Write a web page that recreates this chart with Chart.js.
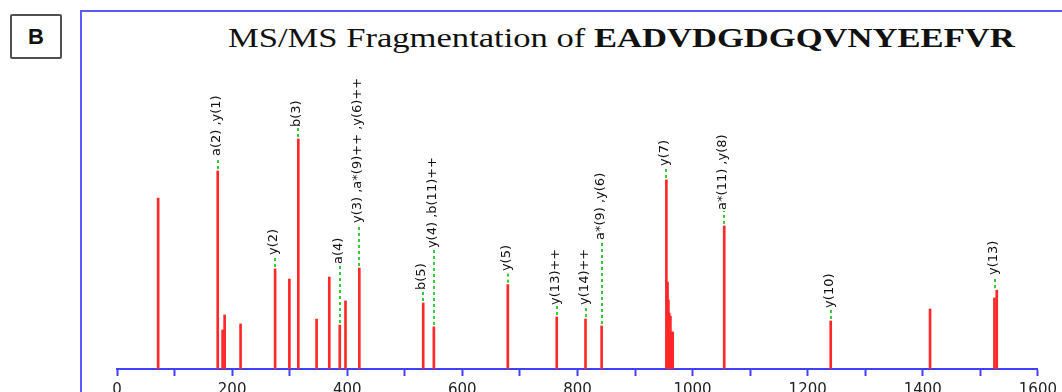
<!DOCTYPE html>
<html><head><meta charset="utf-8">
<script src="https://cdn.jsdelivr.net/npm/chart.js@4.4.1/dist/chart.umd.min.js"></script>
<style>
html,body{margin:0;padding:0;background:#fff;width:1062px;height:392px;overflow:hidden;}
#frame{position:absolute;left:80px;top:10px;width:990px;height:400px;border-left:2px solid #5a5aff;border-top:2px solid #5a5aff;}
#tag{position:absolute;left:10px;top:14px;width:48px;height:41px;border:2px solid #505050;border-radius:2px;font:bold 22px "Liberation Sans",Arial,sans-serif;text-align:center;line-height:41px;color:#111;}
#title{position:absolute;left:228px;top:24px;font:28px/28px "Liberation Serif","Times New Roman",serif;white-space:nowrap;transform:scaleX(1.235);transform-origin:0 0;color:#111;}
canvas{position:absolute;left:0;top:0;}
</style></head><body>
<div id="frame"></div>
<div id="tag">B</div>
<div id="title">MS/MS Fragmentation of <b>EADVDGDGQVNYEEFVR</b></div>
<canvas id="c" width="1062" height="392"></canvas>
<script>
// peak list: m/z and relative intensity (% of base peak)
const peakMz = [71.5, 175, 183.5, 187, 214.7, 274.7, 299.5, 315, 346.8, 368.8, 387, 397, 421,
  532, 550.5, 679, 764, 814, 842, 954.5, 956.5, 958, 959.5, 961.5, 963.5, 965.5,
  1055, 1240, 1412.6, 1524.5, 1528.5];
const peakIntensity = [74.3, 86.1, 17.0, 23.5, 19.6, 43.5, 39.1, 100, 21.7, 40.0, 19.1, 29.6, 43.9,
  28.7, 18.3, 36.7, 22.6, 21.7, 18.7, 82.2, 37.8, 30.0, 24.3, 23.0, 16.1, 16.1,
  62.2, 20.9, 26.1, 30.9, 34.3];

// fragment ion annotations
const ionLabels = ['a(2) ,y(1)', 'y(2)', 'b(3)', 'a(4)', 'y(3) ,a*(9)++ ,y(6)++', 'b(5)',
  'y(4) ,b(11)++', 'y(5)', 'y(13)++', 'y(14)++', 'a*(9) ,y(6)', 'y(7)', 'a*(11) ,y(8)', 'y(10)', 'y(13)'];
const ionMz = [175, 274.7, 315, 387, 421, 532, 550.5, 679, 764, 814, 842, 954.5, 1055, 1240, 1526];
const ionLabelLevel = [91.7, 48.7, 104.3, 44.8, 62.6, 33.5, 51.7, 41.7, 27.0, 27.0, 55.2, 87.4, 68.3, 25.7, 40.0];

const xTickLabels = ['0', '200', '400', '600', '800', '1000', '1200', '1400', '1600'];

const ionLabelPlugin = {
  id: 'ionLabels',
  afterDatasetsDraw(chart) {
    const ctx = chart.ctx, xs = chart.scales.x, ys = chart.scales.y;
    ctx.save();
    for (let i = 0; i < ionLabels.length; i++) {
      const mz = ionMz[i];
      let h = 0;
      peakMz.forEach((m, j) => { if (Math.abs(m - mz) <= 3) h = Math.max(h, peakIntensity[j]); });
      const px = Math.round(xs.getPixelForValue(mz));
      const top = ys.getPixelForValue(h);
      const start = ys.getPixelForValue(ionLabelLevel[i]);
      ctx.strokeStyle = '#33cc33';
      ctx.lineWidth = 2;
      ctx.setLineDash([3, 3]);
      ctx.beginPath();
      ctx.moveTo(px, top - 2);
      ctx.lineTo(px, start - 1);
      ctx.stroke();
      ctx.setLineDash([]);
      ctx.save();
      ctx.translate(px - 1, start - 2);
      ctx.rotate(-Math.PI / 2);
      ctx.font = '13px "DejaVu Sans"';
      ctx.fillStyle = '#111';
      ctx.textAlign = 'left';
      ctx.textBaseline = 'middle';
      ctx.fillText(ionLabels[i], 0, 0);
      ctx.restore();
    }
    ctx.restore();
  }
};

new Chart(document.getElementById('c'), {
  type: 'bar',
  data: {
    datasets: [{
      data: peakMz.map((m, i) => ({ x: m, y: peakIntensity[i] })),
      backgroundColor: 'rgb(255,40,40)',
      borderWidth: 0,
      barThickness: 2
    }]
  },
  options: {
    responsive: false,
    animation: false,
    layout: { padding: { left: 117, right: 20, top: 70, bottom: 0 } },
    plugins: { legend: { display: false }, tooltip: { enabled: false } },
    scales: {
      x: {
        type: 'linear', min: 0, max: 1600, offset: false,
        grid: { offset: false, drawOnChartArea: false, drawTicks: true, tickLength: 7, tickWidth: 2, tickColor: '#4040ff' },
        border: { display: true, color: '#4040ff', width: 2 },
        ticks: {
          stepSize: 100, autoSkip: false, maxRotation: 0, padding: 5, color: '#222',
          font: { family: 'DejaVu Sans', size: 15 },
          callback: (v) => { const s = String(v); return xTickLabels.includes(s) ? s : ''; }
        },
        afterFit(s) { s.height = 23; }
      },
      y: { display: false, min: 0, max: 130 }
    }
  },
  plugins: [ionLabelPlugin]
});
</script>
</body></html>
